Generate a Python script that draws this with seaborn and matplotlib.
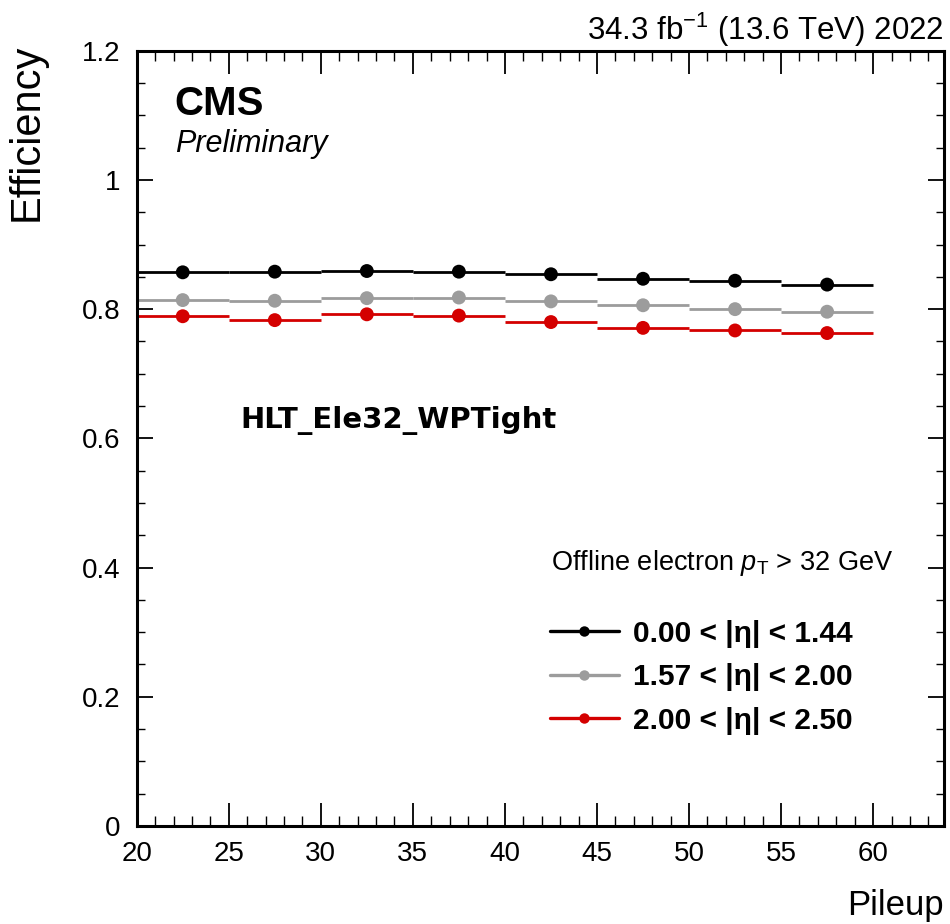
import numpy as np
import pandas as pd
import matplotlib
matplotlib.use("Agg")
import matplotlib.pyplot as plt
from matplotlib.lines import Line2D
from matplotlib.ticker import MultipleLocator
import seaborn as sns

# Pileup bins (width 5) and trigger efficiencies per |eta| region
bin_centers = [22.5, 27.5, 32.5, 37.5, 42.5, 47.5, 52.5, 57.5]
bin_half_width = 2.5
eff_barrel = [0.857, 0.858, 0.859, 0.858, 0.854, 0.847, 0.844, 0.838]
eff_endcap1 = [0.814, 0.813, 0.817, 0.818, 0.812, 0.806, 0.800, 0.796]
eff_endcap2 = [0.789, 0.783, 0.792, 0.790, 0.780, 0.771, 0.767, 0.763]
region_labels = ["0.00 < |η| < 1.44", "1.57 < |η| < 2.00", "2.00 < |η| < 2.50"]
region_colors = ["#000000", "#9c9c9c", "#d40000"]
x_ticks = [20, 25, 30, 35, 40, 45, 50, 55, 60]
y_ticks = [0, 0.2, 0.4, 0.6, 0.8, 1.0, 1.2]
y_tick_labels = ["0", "0.2", "0.4", "0.6", "0.8", "1", "1.2"]

sns.set_theme(style="ticks", rc={"text.color": "black", "axes.labelcolor": "black",
                                 "xtick.color": "black", "ytick.color": "black",
                                 "axes.edgecolor": "black"})
plt.rcParams["font.family"] = ["Liberation Sans", "DejaVu Sans"]
plt.rcParams["mathtext.fontset"] = "custom"
plt.rcParams["mathtext.rm"] = "Liberation Sans"
plt.rcParams["mathtext.it"] = "Liberation Sans:italic"
plt.rcParams["mathtext.bf"] = "Liberation Sans:bold"

rows = []
for lab, vals in zip(region_labels, [eff_barrel, eff_endcap1, eff_endcap2]):
    for x, v in zip(bin_centers, vals):
        rows.append({"pileup": x, "eff": v, "region": lab})
df = pd.DataFrame(rows)

fig = plt.figure(figsize=(9.5, 9.24), dpi=100)
ax = fig.add_axes([0.1439, 0.1061, 0.9937 - 0.1439, 0.9451 - 0.1061])

# horizontal bin-width bars
for lab, col in zip(region_labels, region_colors):
    sub = df[df["region"] == lab]
    ax.errorbar(sub["pileup"], sub["eff"], xerr=bin_half_width, fmt="none",
                ecolor=col, elinewidth=2.0, capsize=0, zorder=2)

sns.scatterplot(data=df, x="pileup", y="eff", hue="region",
                palette=dict(zip(region_labels, region_colors)),
                s=100, edgecolor="none", legend=False, ax=ax, zorder=3)

ax.set_xlim(20, 63.85)
ax.set_ylim(0, 1.2)
ax.set_xticks(x_ticks)
ax.set_xticklabels([str(t) for t in x_ticks])
ax.set_yticks(y_ticks)
ax.set_yticklabels(y_tick_labels)
ax.xaxis.set_minor_locator(MultipleLocator(1))
ax.yaxis.set_minor_locator(MultipleLocator(0.05))

for s in ax.spines.values():
    s.set_linewidth(2.2)
    s.set_color("black")
ax.tick_params(axis="both", which="both", direction="in", top=True, right=True,
               colors="black")
ax.tick_params(axis="x", which="major", length=16.5, width=1.3, labelsize=20, pad=11)
ax.tick_params(axis="x", which="minor", length=7.2, width=1.0)
ax.tick_params(axis="y", which="major", length=11.5, width=1.3, labelsize=20, pad=12)
ax.tick_params(axis="y", which="minor", length=5.8, width=1.0)

ax.set_xlabel("Pileup", fontsize=25, loc="right")
ax.xaxis.set_label_coords(1.0, -0.081)
ax.set_ylabel("Efficiency", fontsize=30, loc="top")
ax.yaxis.set_label_coords(-0.112, 1.009)

ax.text(1.0, 1.0138, r"34.3 fb$^{-1}$ (13.6 TeV) 2022", transform=ax.transAxes,
        ha="right", va="baseline", fontsize=22.5)
ax.text(0.047, 0.917, "CMS", transform=ax.transAxes, ha="left", va="baseline",
        fontsize=29, fontweight="bold")
ax.text(0.047, 0.869, "Preliminary", transform=ax.transAxes, ha="left",
        va="baseline", fontsize=22, fontstyle="italic")
ax.text(0.128, 0.513, "HLT_Ele32_WPTight", transform=ax.transAxes, ha="left",
        va="baseline", fontsize=21, fontweight="bold", family="DejaVu Sans")
ax.text(0.513, 0.330, r"Offline electron $p_{\mathrm{T}}$ > 32 GeV",
        transform=ax.transAxes, ha="left", va="baseline", fontsize=19.5)

handles = [Line2D([0], [0], color=c, lw=2.4, marker="o", markersize=7.5,
                  markeredgewidth=0) for c in region_colors]
ax.legend(handles, region_labels, loc="upper left", bbox_to_anchor=(0.512, 0.266),
          frameon=False, borderpad=0, borderaxespad=0, handlelength=2.3,
          handletextpad=0.48, labelspacing=0.52,
          prop={"size": 21.5, "weight": "bold", "family": "Liberation Sans"})

fig.savefig("out.png", dpi=100, facecolor="white")
